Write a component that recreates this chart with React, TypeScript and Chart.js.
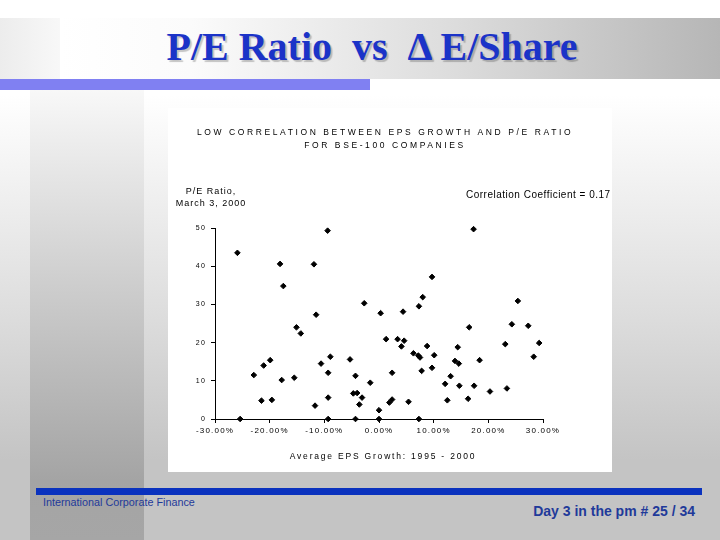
import React, { useEffect, useRef } from "react";
import { Chart, registerables } from "chart.js";

Chart.register(...registerables);

// Average EPS growth 1995-2000 (%) and P/E ratio (March 3, 2000), one entry per company
const epsGrowth = [
  -25.9, -25.4, -18.1, -17.5, -11.9, -9.4, -11.5, -15.1, -14.3, -22.9,
  -21.1, -19.9, -21.5, -19.6, -17.8, -15.5, -11.7, -10.6, -8.9, -9.3,
  -9.3, -9.3, -5.3, -4.3, -4.7, -4.0, -3.1, -3.6, -4.3, -2.7,
  -1.6, 0.0, 0.0, 0.3, 1.3, 2.4, 1.9, 2.4,
  17.3, 9.7, 8.0, 7.3, 4.4, 25.4, 16.5, 24.3, 27.3, 3.4,
  4.6, 4.1, 8.8, 14.4, 23.1, 29.3, 6.3, 7.2, 7.5, 10.1,
  28.3, 13.9, 14.6, 18.4, 9.7, 7.8, 13.1, 12.1, 14.7, 17.4,
  20.3, 23.4, 5.4, 12.5, 16.3, 7.3,
];
const peRatio = [
  43.5, 0, 40.6, 34.8, 40.5, 49.3, 27.3, 24.0, 22.4, 11.5,
  14.0, 15.4, 4.8, 5.0, 10.2, 10.8, 3.5, 14.5, 16.3, 12.1,
  5.6, 0, 15.6, 11.3, 6.7, 6.8, 5.6, 3.8, 0, 30.3,
  9.5, 2.3, 0, 27.7, 20.9, 12.1, 4.3, 5.1,
  49.7, 37.2, 31.9, 29.5, 28.1, 30.9, 24.0, 24.8, 24.4, 20.9,
  20.5, 19.0, 19.1, 18.8, 19.6, 19.9, 17.2, 16.6, 16.1, 16.7,
  16.3, 15.2, 14.5, 15.4, 13.4, 12.6, 11.2, 9.2, 8.7, 8.7,
  7.2, 8.0, 4.5, 4.9, 5.3, 0,
];
const xTicks = [-30, -20, -10, 0, 10, 20, 30];
const yTicks = [0, 10, 20, 30, 40, 50];

const slideTitle = "P/E Ratio  vs  \u0394 E/Share";
const chartTitle = [
  "LOW CORRELATION BETWEEN EPS GROWTH AND P/E RATIO",
  "FOR BSE-100 COMPANIES",
];
const yAxisLabel = ["P/E Ratio,", "March 3, 2000"];
const xAxisLabel = "Average EPS Growth: 1995 - 2000";
const corrNote = "Correlation Coefficient = 0.17";
const footerLeft = "International Corporate Finance";
const footerRight = "Day 3 in the pm # 25 / 34";

const SANS = '"Liberation Sans", Arial, sans-serif';

const textPlugin = {
  id: "slideTexts",
  beforeDraw(chart: any) {
    chart.ctx.letterSpacing = "1.2px";
  },
  afterDraw(chart: any) {
    const ctx = chart.ctx as CanvasRenderingContext2D;
    const w = chart.width;
    ctx.save();
    ctx.fillStyle = "#000";
    ctx.textBaseline = "middle";

    ctx.textAlign = "center";
    ctx.font = `8.5px ${SANS}`;
    (ctx as any).letterSpacing = "2.6px";
    ctx.fillText(chartTitle[0], w / 2 - 5, 25);
    ctx.fillText(chartTitle[1], w / 2 - 5, 38);

    ctx.font = `9px ${SANS}`;
    (ctx as any).letterSpacing = "1px";
    ctx.fillText(yAxisLabel[0], 43, 84);
    ctx.fillText(yAxisLabel[1], 43, 96);

    ctx.font = `8.5px ${SANS}`;
    (ctx as any).letterSpacing = "1.8px";
    ctx.fillText(xAxisLabel, 215, 349);

    ctx.textAlign = "left";
    ctx.font = `10px ${SANS}`;
    (ctx as any).letterSpacing = "0.5px";
    ctx.fillText(corrNote, 298, 87);
    ctx.restore();
  },
};

function ScatterChart() {
  const ref = useRef<HTMLCanvasElement | null>(null);
  useEffect(() => {
    if (!ref.current) return;
    const chart = new Chart(ref.current, {
      type: "scatter",
      data: {
        datasets: [
          {
            data: epsGrowth.map((x, i) => ({ x, y: peRatio[i] })),
            pointStyle: "rectRot",
            pointRadius: 2.8,
            backgroundColor: "#000",
            borderColor: "#000",
            borderWidth: 1,
            clip: false as any,
          },
        ],
      },
      options: {
        animation: false,
        responsive: false,
        maintainAspectRatio: false,
        events: [],
        layout: { padding: { left: 0, right: 69, top: 120, bottom: 0 } },
        plugins: {
          legend: { display: false },
          tooltip: { enabled: false },
          title: { display: false },
        },
        scales: {
          x: {
            type: "linear",
            min: -30,
            max: 30,
            afterBuildTicks: (s: any) => {
              s.ticks = xTicks.map((v) => ({ value: v }));
            },
            afterFit: (s: any) => {
              s.height = 53;
            },
            grid: { drawOnChartArea: false, tickLength: 4, color: "#000" },
            border: { color: "#000", width: 1 },
            ticks: {
              font: { size: 8, family: SANS },
              color: "#000",
              padding: 3,
              maxRotation: 0,
              autoSkip: false,
              callback: (v: any) => Number(v).toFixed(2) + "%",
            },
          },
          y: {
            type: "linear",
            min: 0,
            max: 50,
            afterBuildTicks: (s: any) => {
              s.ticks = yTicks.map((v) => ({ value: v }));
            },
            afterFit: (s: any) => {
              s.width = 47;
            },
            grid: { drawOnChartArea: false, tickLength: 4, color: "#000" },
            border: { color: "#000", width: 1 },
            ticks: {
              font: { size: 7, family: SANS },
              color: "#000",
              padding: 5,
              autoSkip: false,
              callback: (v: any) => String(v),
            },
          },
        },
      },
      plugins: [textPlugin],
    } as any);
    return () => chart.destroy();
  }, []);
  return <canvas ref={ref} width={444} height={364} style={{ display: "block" }} />;
}

export default function App() {
  return (
    <div
      style={{
        position: "fixed",
        left: 0,
        top: 0,
        width: 720,
        height: 540,
        overflow: "hidden",
        background:
          "linear-gradient(to bottom, #ffffff 0px, #ffffff 95px, #dcdcdc 320px, #c4c4c4 460px, #c4c4c4 540px)",
        fontFamily: SANS,
      }}
    >
      {/* dark vertical strip */}
      <div
        style={{
          position: "absolute",
          left: 30,
          top: 90,
          width: 114,
          height: 450,
          background: "linear-gradient(to bottom, #f8f8f8 0px, #c8c8c8 220px, #a4a4a4 390px, #a6a6a6 450px)",
        }}
      />
      {/* header band */}
      <div style={{ position: "absolute", left: 0, top: 0, width: 720, height: 18, background: "#fff" }} />
      <div
        style={{
          position: "absolute",
          left: 0,
          top: 18,
          width: 60,
          height: 61,
          background: "linear-gradient(to right, #ececec 0%, #f8f8f8 100%)",
        }}
      />
      <div
        style={{
          position: "absolute",
          left: 60,
          top: 18,
          width: 660,
          height: 61,
          background: "linear-gradient(to right, #ffffff 0%, #fbfbfb 20%, #dcdcdc 60%, #b6b6b6 100%)",
        }}
      />
      <div style={{ position: "absolute", left: 0, top: 79, width: 370, height: 11, background: "#8080f2" }} />
      <div
        style={{
          position: "absolute",
          left: 0,
          top: 27,
          width: 744,
          textAlign: "center",
          whiteSpace: "pre",
          fontFamily: '"Liberation Serif", "Times New Roman", serif',
          fontWeight: "bold",
          fontSize: 40,
          lineHeight: "40px",
          color: "#1b33c8",
          textShadow: "2px 2px 1px rgba(0,0,0,0.22)",
        }}
      >
        {slideTitle}
      </div>

      {/* chart box */}
      <div style={{ position: "absolute", left: 168, top: 108, width: 444, height: 364, background: "#fff" }}>
        <ScatterChart />
      </div>

      {/* footer */}
      <div style={{ position: "absolute", left: 36, top: 488, width: 666, height: 7, background: "#0a32be" }} />
      <div
        style={{
          position: "absolute",
          left: 43,
          top: 496,
          fontSize: 10.8,
          lineHeight: "12px",
          color: "#1f3a9a",
          whiteSpace: "nowrap",
        }}
      >
        {footerLeft}
      </div>
      <div
        style={{
          position: "absolute",
          right: 25,
          top: 503,
          fontSize: 14,
          fontWeight: "bold",
          lineHeight: "16px",
          color: "#1f3a9a",
          whiteSpace: "nowrap",
        }}
      >
        {footerRight}
      </div>
    </div>
  );
}
